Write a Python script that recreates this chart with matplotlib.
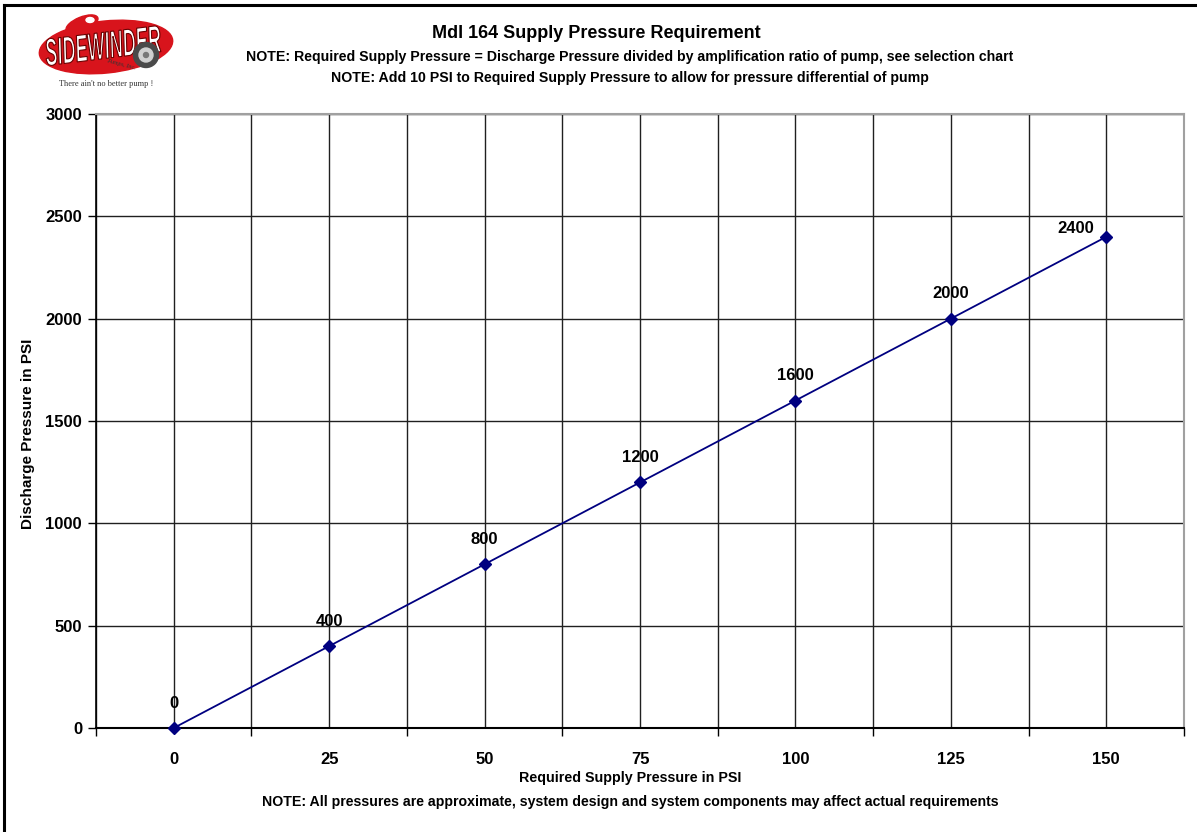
import matplotlib
matplotlib.use("Agg")
import matplotlib.pyplot as plt
from matplotlib.patches import Ellipse, Circle, PathPatch
from matplotlib.textpath import TextPath
from matplotlib.font_manager import FontProperties
from matplotlib.transforms import Affine2D
import matplotlib.patheffects as pe
import numpy as np

plt.rcParams['font.family'] = ['Liberation Sans', 'DejaVu Sans']

# Series data
supply_psi = ["0", "25", "50", "75", "100", "125", "150"]
discharge_psi = [0, 400, 800, 1200, 1600, 2000, 2400]
y_ticks = [0, 500, 1000, 1500, 2000, 2500, 3000]

title = "Mdl 164 Supply Pressure Requirement"
note1 = "NOTE: Required Supply Pressure = Discharge Pressure divided by amplification ratio of pump, see selection chart"
note2 = "NOTE: Add 10 PSI to Required Supply Pressure to allow for pressure differential of pump"
note3 = "NOTE: All pressures are approximate, system design and system components may affect actual requirements"

W, H = 1197, 832
fig = plt.figure(figsize=(W / 100, H / 100), dpi=100)

# Outer frame (left and top edges visible)
fig.add_artist(plt.Line2D([4 / W, 4 / W], [0, 1 - 5 / H], color='black', lw=2.2))
fig.add_artist(plt.Line2D([4 / W, 1], [1 - 5 / H, 1 - 5 / H], color='black', lw=2.2))

# Plot area
x0, x1, yt, yb = 96, 1184, 114, 728
ax = fig.add_axes([x0 / W, 1 - yb / H, (x1 - x0) / W, (yb - yt) / H])
n = len(supply_psi)
xs = np.arange(n)
ax.set_xlim(-0.5, n - 0.5)
ax.set_ylim(0, 3000)

# Gridlines at category boundaries and centres
for gx in np.arange(-0.5, n, 0.5):
    ax.axvline(gx, color='#202020', lw=1.0, zorder=1)
for gy in y_ticks[1:]:
    ax.axhline(gy, color='#202020', lw=1.0, zorder=1)

for side in ['top', 'right']:
    ax.spines[side].set_color('#a0a0a0')
    ax.spines[side].set_linewidth(1.5)
ax.spines['left'].set_color('black')
ax.spines['bottom'].set_color('black')
ax.spines['left'].set_linewidth(1.2)
ax.spines['bottom'].set_linewidth(1.5)

ax.set_yticks(y_ticks)
ax.set_yticklabels([str(v) for v in y_ticks], fontsize=12, fontweight='bold')
ax.tick_params(axis='y', direction='out', length=6, width=1, pad=4)

# Tick marks at category boundaries, labels at centres
ax.set_xticks(np.arange(-0.5, n, 1.0))
ax.set_xticklabels([''] * (n + 1))
ax.tick_params(axis='x', which='major', direction='out', length=6, width=1)
ax.set_xticks(xs, minor=True)
ax.set_xticklabels(supply_psi, minor=True, fontsize=12, fontweight='bold')
ax.tick_params(axis='x', which='minor', length=0, pad=17)

ax.plot(xs, discharge_psi, color='#000080', lw=1.3, marker='D', markersize=6,
        markerfacecolor='#000080', markeredgecolor='#000080', zorder=3, clip_on=False)

for i, (xv, yv) in enumerate(zip(xs, discharge_psi)):
    off = (0, 25) if i < n - 1 else (-31, 8)
    ax.annotate(str(yv), (xv, yv), xytext=off, textcoords='offset pixels',
                ha='center', va='center', fontsize=12, fontweight='bold')

# Axis titles
fig.text(630 / W, 1 - 778 / H, "Required Supply Pressure in PSI", ha='center', va='center',
         fontsize=10.3, fontweight='bold')
fig.text(28 / W, 1 - 434 / H, "Discharge Pressure in PSI", ha='center', va='center',
         fontsize=11, fontweight='bold', rotation=90)

# Titles and notes
fig.text(596 / W, 1 - 34 / H, title, ha='center', va='center', fontsize=13, fontweight='bold')
fig.text(630 / W, 1 - 57 / H, note1, ha='center', va='center', fontsize=10.2, fontweight='bold')
fig.text(630 / W, 1 - 78 / H, note2, ha='center', va='center', fontsize=10.2, fontweight='bold')
fig.text(630 / W, 1 - 802 / H, note3, ha='center', va='center', fontsize=10.2, fontweight='bold')

# Company logo (pixel coordinates, y pointing down)
lax = fig.add_axes([30 / W, 1 - 95 / H, 150 / W, 85 / H])
lax.set_xlim(30, 180)
lax.set_ylim(95, 10)
lax.axis('off')
lax.add_patch(Ellipse((106, 47), 134, 52, angle=-6, color='#d8141c', zorder=1))
lax.add_patch(Ellipse((82, 24), 34, 14, angle=-22, color='#d8141c', zorder=1))
lax.add_patch(Ellipse((90, 20), 8, 5, color='white', zorder=2))

tp = TextPath((0, 0), "SIDEWINDER", size=10,
              prop=FontProperties(family='Liberation Sans', weight='bold', style='italic'))
bb = tp.get_extents()
tr = (Affine2D().translate(-bb.x0, -bb.y0)
      .scale(116 / bb.width, -27 / bb.height)
      .rotate_deg(-7)
      .translate(47, 66))
lax.add_patch(PathPatch(tr.transform_path(tp), facecolor='white', edgecolor='#6a0000',
                        lw=0.8, zorder=3))

lax.add_patch(Circle((146, 55), 12.5, color='#4a4a4a', zorder=4))
lax.add_patch(Circle((146, 55), 7, color='#d0d0d0', zorder=5))
lax.add_patch(Circle((146, 55), 2.5, color='#777777', zorder=6))
lax.text(121, 64, "Pumps, Inc.", ha='center', va='center', fontsize=4.5, style='italic',
         color='#333333', family='Liberation Serif', zorder=3, rotation=-15)
lax.text(106, 84, "There ain't no better pump !", ha='center', va='center', fontsize=6,
         color='#333333', family='Liberation Serif')

fig.savefig("out.png", dpi=100, facecolor='white')
